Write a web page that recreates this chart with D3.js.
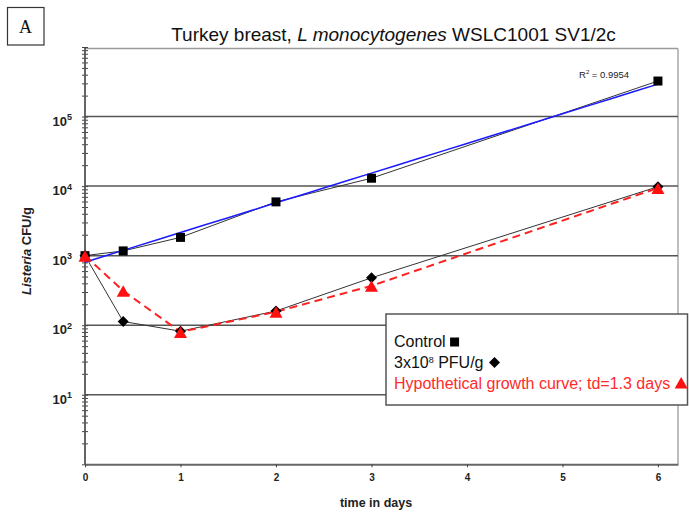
<!DOCTYPE html>
<html>
<head>
<meta charset="utf-8">
<script src="https://cdn.jsdelivr.net/npm/d3@7"></script>
<style>
  html, body { margin: 0; padding: 0; background: #fff; }
  svg { display: block; font-family: "Liberation Sans", Arial, sans-serif; }
</style>
</head>
<body>
<svg id="chart" width="689" height="512"></svg>
<script>
// ---- data ----
const days = [0, 0.4, 1, 2, 3, 6];
const control = [1000, 1170, 1830, 5930, 12980, 324000];
const phage = [1000, 113, 82, 160, 480, 9800];
const hypothetical = [1000, 312, 80, 156, 368, 9400];
const xTickValues = [0, 1, 2, 3, 4, 5, 6];
const yDecadeExponents = [1, 2, 3, 4, 5];
const rSquaredLabel = "0.9954";

(function () {
const svg = d3.select("#chart");
const pLeft = 85, pRight = 678, pTop = 47, pBottom = 464.3;

const x = d3.scaleLinear().domain([0, 6.21]).range([pLeft, pRight]);
const y = d3.scaleLog().domain([1, 1e6]).range([pBottom, pTop]);

// Panel letter box
svg.append("rect").attr("x", 7.5).attr("y", 7.5).attr("width", 36.5).attr("height", 37.5)
  .attr("fill", "#fff").attr("stroke", "#333").attr("stroke-width", 1.2);
svg.append("text").attr("x", 25.5).attr("y", 33).attr("text-anchor", "middle")
  .attr("font-family", "'Liberation Serif', 'Times New Roman', serif").attr("font-size", 18)
  .attr("fill", "#111").text("A");

// Title
const title = svg.append("text").attr("x", 393.5).attr("y", 40.5).attr("text-anchor", "middle")
  .attr("font-size", 19).attr("fill", "#111");
title.append("tspan").text("Turkey breast, ");
title.append("tspan").attr("font-style", "italic").text("L monocytogenes");
title.append("tspan").text(" WSLC1001 SV1/2c");

// Frame (top and right)
svg.append("line").attr("x1", pLeft).attr("x2", pRight).attr("y1", pTop + 1.5).attr("y2", pTop + 1.5)
  .attr("stroke", "#9a9a9a").attr("stroke-width", 1.5);
svg.append("line").attr("x1", pRight).attr("x2", pRight).attr("y1", pTop + 1.5).attr("y2", pBottom)
  .attr("stroke", "#a8a8a8").attr("stroke-width", 1.5);

// Gridlines at decades
svg.append("g").selectAll("line").data(yDecadeExponents).join("line")
  .attr("x1", pLeft).attr("x2", pRight)
  .attr("y1", d => y(Math.pow(10, d))).attr("y2", d => y(Math.pow(10, d)))
  .attr("stroke", "#555").attr("stroke-width", 1.5);

// Y axis with log minor ticks crossing the axis
const yTicksAll = y.ticks();
const yAxis = d3.axisLeft(y).tickValues(yTicksAll).tickSize(3).tickSizeOuter(0).tickFormat("");
const gy = svg.append("g").attr("transform", `translate(${pLeft},0)`).call(yAxis);
gy.select(".domain").remove();
gy.selectAll(".tick line").attr("x1", -3).attr("x2", 3).attr("stroke", "#444").attr("stroke-width", 1);
svg.append("line").attr("x1", pLeft).attr("x2", pLeft).attr("y1", pTop + 1).attr("y2", pBottom)
  .attr("stroke", "#555").attr("stroke-width", 1.8);

// Y labels 10^n
const yl = svg.append("g").selectAll("text").data(yDecadeExponents).join("text")
  .attr("x", 72).attr("y", d => y(Math.pow(10, d)) + 9)
  .attr("text-anchor", "end").attr("font-weight", "bold").attr("font-size", 13).attr("fill", "#222");
yl.append("tspan").text("10");
yl.append("tspan").attr("font-size", 9).attr("dy", -5.5).text(d => d);

// X axis
const xAxis = d3.axisBottom(x).tickValues(xTickValues).tickSize(3).tickSizeOuter(0).tickFormat(d3.format("d"));
const gx = svg.append("g").attr("transform", `translate(0,${pBottom})`).call(xAxis);
gx.select(".domain").attr("stroke", "#666").attr("stroke-width", 2);
gx.selectAll(".tick line").attr("stroke", "#444");
gx.selectAll(".tick text").attr("font-family", "'Liberation Sans', Arial, sans-serif")
  .attr("font-size", 10).attr("font-weight", "bold").attr("fill", "#222").attr("dy", "1.1em");

// Axis titles
svg.append("text").attr("x", 376).attr("y", 507).attr("text-anchor", "middle")
  .attr("font-size", 12.5).attr("font-weight", "bold").attr("fill", "#222").text("time in days");
const ylab = svg.append("text").attr("transform", "translate(31,251) rotate(-90)")
  .attr("text-anchor", "middle").attr("font-size", 13).attr("font-weight", "bold").attr("fill", "#222");
ylab.append("tspan").attr("font-style", "italic").text("Listeria");
ylab.append("tspan").text(" CFU/g");

// Series
const pts = vals => days.map((d, i) => [d, vals[i]]);
const line = d3.line().x(d => x(d[0])).y(d => y(d[1]));

svg.append("path").datum(pts(control)).attr("d", line)
  .attr("fill", "none").attr("stroke", "#333").attr("stroke-width", 1);
svg.append("path").datum(pts(phage)).attr("d", line)
  .attr("fill", "none").attr("stroke", "#333").attr("stroke-width", 1);
svg.append("path").datum(pts(hypothetical)).attr("d", line)
  .attr("fill", "none").attr("stroke", "#ff2020").attr("stroke-width", 2).attr("stroke-dasharray", "8,5");

// Exponential trendline fit to control (least squares in log space)
const lx = days, ly = control.map(v => Math.log10(v));
const mx = d3.mean(lx), my = d3.mean(ly);
const slope = d3.sum(lx.map((t, i) => (t - mx) * (ly[i] - my))) / d3.sum(lx.map(t => (t - mx) ** 2));
const icpt = my - slope * mx;
const trend = d3.range(0, 6.0001, 0.25).map(t => [t, Math.pow(10, icpt + slope * t)]);
svg.append("path").datum(trend).attr("d", line)
  .attr("fill", "none").attr("stroke", "#1a1aff").attr("stroke-width", 1.5);

// Markers
const squarePath = "M-4.5,-4.5H4.5V4.5H-4.5Z";
const diamondPath = "M0,-5.5L5.5,0L0,5.5L-5.5,0Z";
const trianglePath = "M0,-6.5L6.5,5L-6.5,5Z";

svg.append("g").selectAll("path").data(pts(control)).join("path")
  .attr("d", squarePath).attr("transform", d => `translate(${x(d[0])},${y(d[1])})`).attr("fill", "#000");
svg.append("g").selectAll("path").data(pts(phage)).join("path")
  .attr("d", diamondPath).attr("transform", d => `translate(${x(d[0])},${y(d[1])})`).attr("fill", "#000");
svg.append("g").selectAll("path").data(pts(hypothetical)).join("path")
  .attr("d", trianglePath).attr("transform", d => `translate(${x(d[0])},${y(d[1]) + 1})`).attr("fill", "#ff1010");

// R² label
const r2 = svg.append("text").attr("x", 579).attr("y", 78).attr("font-size", 9.5).attr("fill", "#222");
r2.append("tspan").text("R");
r2.append("tspan").attr("font-size", 6).attr("dy", -4).text("2");
r2.append("tspan").attr("dy", 4).text(" = " + rSquaredLabel);

// Legend
const lg = svg.append("g");
lg.append("rect").attr("x", 386).attr("y", 314).attr("width", 301.5).attr("height", 91)
  .attr("fill", "#fff").attr("stroke", "#555").attr("stroke-width", 1.5);
const t1 = lg.append("text").attr("x", 394).attr("y", 347).attr("font-size", 16).attr("fill", "#111").text("Control");
const t2 = lg.append("text").attr("x", 394).attr("y", 368).attr("font-size", 16).attr("fill", "#111");
t2.append("tspan").text("3x10");
t2.append("tspan").attr("font-size", 9).attr("dy", -5).text("8");
t2.append("tspan").attr("dy", 5).text(" PFU/g");
const t3 = lg.append("text").attr("x", 394).attr("y", 388.5).attr("font-size", 16).attr("fill", "#ff2a2a")
  .text("Hypothetical growth curve; td=1.3 days");
const w1 = t1.node().getComputedTextLength();
const w2 = t2.node().getBBox().width;
const w3 = t3.node().getComputedTextLength();
lg.append("path").attr("d", squarePath).attr("transform", `translate(${394 + w1 + 9},${342})`).attr("fill", "#000");
lg.append("path").attr("d", diamondPath).attr("transform", `translate(${394 + w2 + 11},${362.5})`).attr("fill", "#000");
lg.append("path").attr("d", trianglePath).attr("transform", `translate(${394 + w3 + 11},${383.5})`).attr("fill", "#ff1010");
})();
</script>
</body>
</html>
